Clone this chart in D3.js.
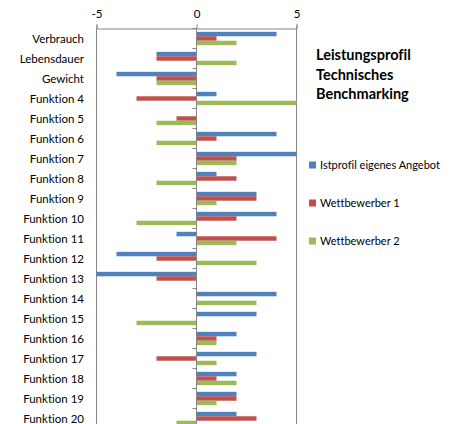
<!DOCTYPE html>
<html>
<head>
<meta charset="utf-8">
<script src="https://cdn.jsdelivr.net/npm/d3@7"></script>
<style>
  body { margin: 0; background: #fff; }
  svg { display: block; font-family: Lato, "Open Sans", sans-serif; font-variant-ligatures: none; }
</style>
</head>
<body>
<svg id="chart" width="455" height="424"></svg>
<script>
const categories = ["Verbrauch", "Lebensdauer", "Gewicht", "Funktion 4", "Funktion 5",
  "Funktion 6", "Funktion 7", "Funktion 8", "Funktion 9", "Funktion 10", "Funktion 11",
  "Funktion 12", "Funktion 13", "Funktion 14", "Funktion 15", "Funktion 16", "Funktion 17",
  "Funktion 18", "Funktion 19", "Funktion 20"]

const seriesNames = ["Istprofil eigenes Angebot", "Wettbewerber 1", "Wettbewerber 2"]
const istprofil = [4, -2, -4, 1, 0, 4, 5, 1, 3, 4, -1, -4, -5, 4, 3, 2, 3, 2, 2, 2]
const wettbewerber1 = [1, -2, -2, -3, -1, 1, 2, 2, 3, 2, 4, -2, -2, 0, 0, 1, -2, 1, 2, 3]
const wettbewerber2 = [2, 2, -2, 5, -2, -2, 2, -2, 1, -3, 2, 3, 0, 3, -3, 1, 1, 2, 1, -1]
const xTicks = [-5, 0, 5]
const titleLines = ["Leistungsprofil", "Technisches", "Benchmarking"]

const colors = ["#4F81BD", "#C0504D", "#9BBB59"]
const allSeries = [istprofil, wettbewerber1, wettbewerber2]

const svg = d3.select("#chart")
const margin = { top: 28.5, left: 96.5 }
const plotW = 200
const bandH = 20

const x = d3.scaleLinear().domain([-5, 5]).range([margin.left, margin.left + plotW])
const y = d3.scaleBand().domain(categories)
  .range([margin.top, margin.top + bandH * categories.length])
  .paddingInner(1 / 3).paddingOuter(1 / 6)
const ySub = d3.scaleBand().domain(d3.range(3)).range([0, y.bandwidth()])

// vertical gridlines at -5 and 5
svg.selectAll(".grid").data([-5, 5]).enter().append("line")
  .attr("class", "grid")
  .attr("x1", d => x(d)).attr("x2", d => x(d))
  .attr("y1", margin.top).attr("y2", 424)
  .attr("stroke", "#868686").attr("stroke-width", 1)

// top axis
const xAxis = d3.axisTop(x).tickValues(xTicks).tickSize(4).tickPadding(7)
  .tickFormat(d => String(d))
const gx = svg.append("g").attr("transform", `translate(0,${margin.top})`).call(xAxis)
gx.select(".domain").attr("stroke", "#868686")
gx.selectAll(".tick line").attr("stroke", "#868686")
gx.selectAll(".tick text").attr("font-size", 11.5).attr("fill", "#000")
  .attr("font-family", "Lato, 'Open Sans', sans-serif")

// bars
const groups = svg.selectAll(".cat").data(categories).enter().append("g")
  .attr("class", "cat")
  .attr("transform", d => `translate(0,${y(d)})`)

groups.selectAll("rect").data((c, i) => allSeries.map((s, k) => ({ k, v: s[i] })))
  .enter().append("rect")
  .attr("x", d => x(Math.min(0, d.v)))
  .attr("width", d => Math.abs(x(d.v) - x(0)))
  .attr("y", d => ySub(d.k))
  .attr("height", ySub.bandwidth())
  .attr("fill", d => colors[d.k])

// vertical axis at 0 with boundary ticks
const boundaries = d3.range(categories.length + 1).map(i => margin.top + i * bandH)
svg.append("line")
  .attr("x1", x(0)).attr("x2", x(0))
  .attr("y1", margin.top).attr("y2", 424)
  .attr("stroke", "#868686")
svg.selectAll(".btick").data(boundaries).enter().append("line")
  .attr("class", "btick")
  .attr("x1", x(0) - 4).attr("x2", x(0))
  .attr("y1", d => d).attr("y2", d => d)
  .attr("stroke", "#868686")

// category labels
svg.selectAll(".label").data(categories).enter().append("text")
  .attr("class", "label")
  .attr("x", 84)
  .attr("y", d => y(d) + y.bandwidth() / 2)
  .attr("dy", "0.35em")
  .attr("text-anchor", "end")
  .attr("font-size", 11.5)
  .text(d => d)

// title
svg.selectAll(".title").data(titleLines).enter().append("text")
  .attr("class", "title")
  .attr("x", 316)
  .attr("y", (d, i) => 55 + i * 19.5)
  .attr("dy", "0.35em")
  .attr("font-size", 14.5)
  .attr("font-weight", "bold")
  .text(d => d)

// legend
const legend = svg.selectAll(".legend").data(seriesNames).enter().append("g")
  .attr("class", "legend")
  .attr("transform", (d, i) => `translate(309,${165 + i * 38})`)
legend.append("rect")
  .attr("x", 0).attr("y", -3.5).attr("width", 7).attr("height", 7)
  .attr("fill", (d, i) => colors[i])
legend.append("text")
  .attr("x", 11).attr("dy", "0.35em")
  .attr("font-size", 11)
  .text(d => d)
</script>
</body>
</html>
